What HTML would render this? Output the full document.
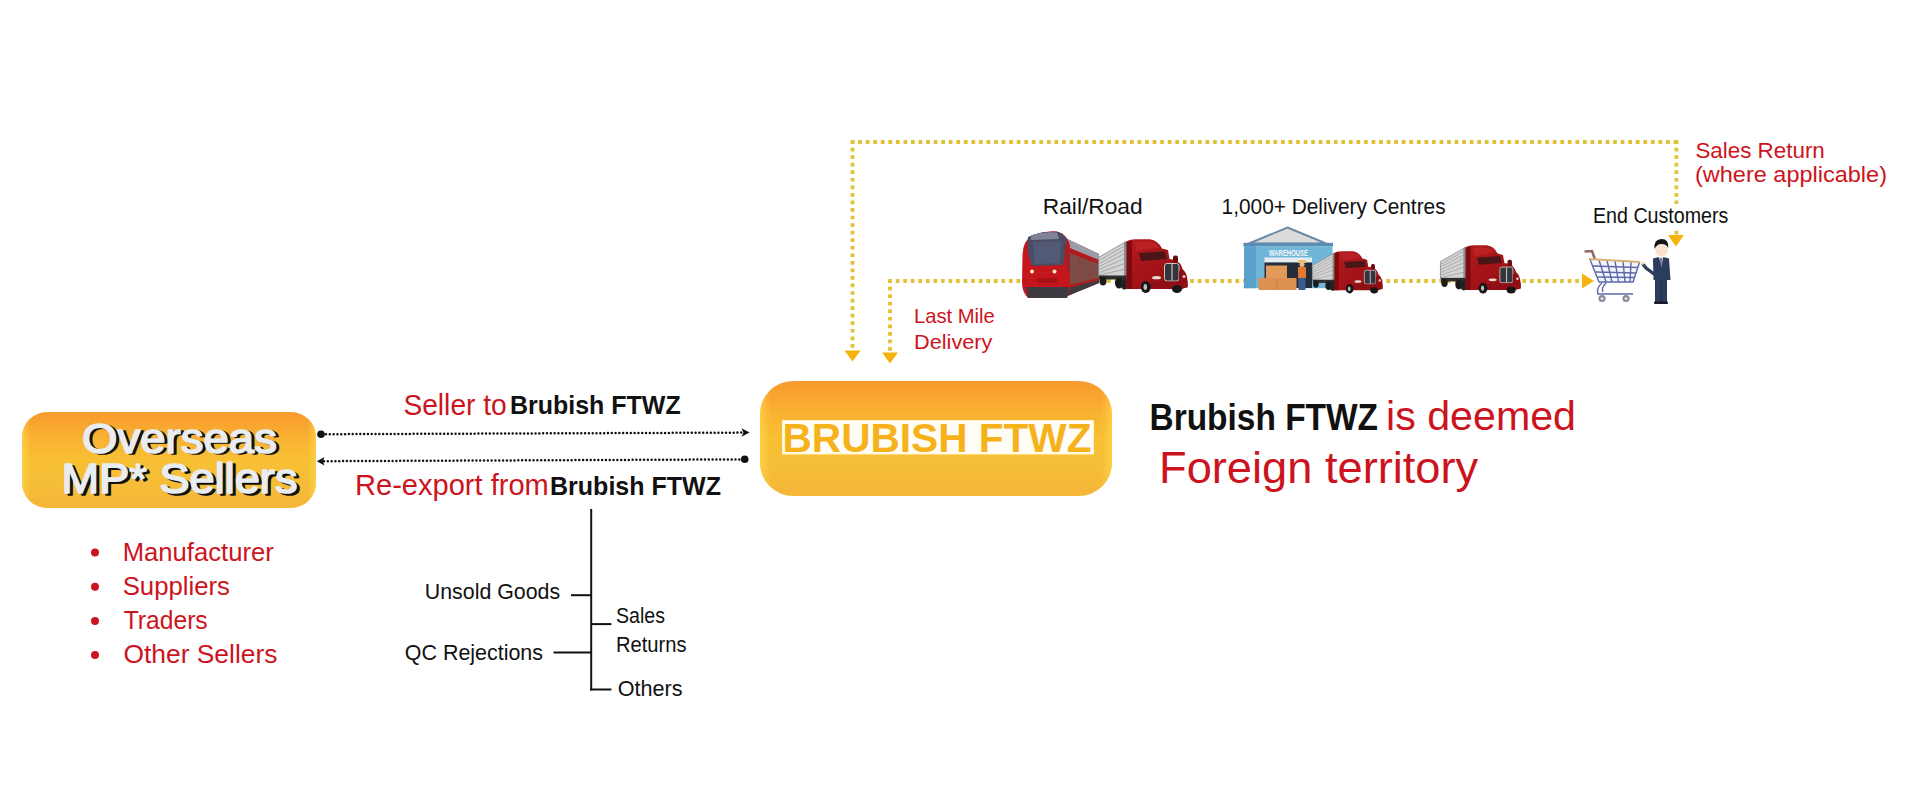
<!DOCTYPE html>
<html><head><meta charset="utf-8">
<style>
html,body{margin:0;padding:0;background:#fff;width:1920px;height:799px;overflow:hidden}
svg{display:block}
text{font-family:"Liberation Sans",sans-serif}
.r{fill:#cc1420}
.k{fill:#111}
.b{font-weight:bold}
</style></head><body>
<svg width="1920" height="799" viewBox="0 0 1920 799">
<defs>
  <linearGradient id="og" x1="0" y1="0" x2="0" y2="1">
    <stop offset="0" stop-color="#f89a2e"/>
    <stop offset="0.28" stop-color="#f9b232"/>
    <stop offset="0.5" stop-color="#f8c034"/>
    <stop offset="0.8" stop-color="#f5bc38"/>
    <stop offset="1" stop-color="#f4b638"/>
  </linearGradient>
  <linearGradient id="cabg" x1="0" y1="0" x2="1" y2="1">
    <stop offset="0" stop-color="#b41a1e"/>
    <stop offset="0.6" stop-color="#a01216"/>
    <stop offset="1" stop-color="#820c10"/>
  </linearGradient>
  <linearGradient id="edge" x1="0" y1="0" x2="1" y2="0">
    <stop offset="0" stop-color="#ffdc50" stop-opacity="0.6"/>
    <stop offset="0.03" stop-color="#ffd84a" stop-opacity="0"/>
    <stop offset="0.97" stop-color="#ffd84a" stop-opacity="0"/>
    <stop offset="1" stop-color="#ffdc50" stop-opacity="0.6"/>
  </linearGradient>
</defs>

<!-- ===== LEFT BOX ===== -->
<rect x="22" y="412" width="294" height="96" rx="25" fill="url(#og)"/>
<rect x="22" y="412" width="294" height="96" rx="25" fill="url(#edge)"/>
<g font-size="42" stroke-linejoin="round">
  <text x="85" y="454" textLength="195" lengthAdjust="spacingAndGlyphs" fill="#111" stroke="#111" stroke-width="1.5">Overseas</text>
  <text x="64.5" y="494.5" textLength="236" lengthAdjust="spacingAndGlyphs" fill="#111" stroke="#111" stroke-width="1.5">MP* Sellers</text>
  <text x="82" y="452.5" textLength="195" lengthAdjust="spacingAndGlyphs" fill="#e8edf2" stroke="#e8edf2" stroke-width="1.5">Overseas</text>
  <text x="61.5" y="493" textLength="236" lengthAdjust="spacingAndGlyphs" fill="#e8edf2" stroke="#e8edf2" stroke-width="1.5">MP* Sellers</text>
</g>

<!-- bullets -->
<g fill="#cc1420">
  <circle cx="95" cy="552.5" r="4"/><circle cx="95" cy="586.7" r="4"/>
  <circle cx="95" cy="620.9" r="4"/><circle cx="95" cy="655" r="4"/>
</g>
<g class="r" font-size="26">
  <text x="122.7" y="561" textLength="151.1" lengthAdjust="spacingAndGlyphs">Manufacturer</text>
  <text x="122.7" y="594.6" textLength="107.3" lengthAdjust="spacingAndGlyphs">Suppliers</text>
  <text x="123.7" y="628.8" textLength="84" lengthAdjust="spacingAndGlyphs">Traders</text>
  <text x="123.5" y="662.6" textLength="153.9" lengthAdjust="spacingAndGlyphs">Other Sellers</text>
</g>

<!-- ===== ARROWS between ===== -->
<g stroke="#111" stroke-width="2.5" stroke-linecap="round" stroke-dasharray="0.01 3.8" fill="none">
  <line x1="326" y1="434.2" x2="743" y2="432.6"/>
  <line x1="324" y1="461.2" x2="740" y2="459.4"/>
</g>
<g fill="#111">
  <circle cx="321" cy="434.3" r="3.8"/>
  <path d="M749.5,432.5 L741.5,428.3 L743.5,432.5 L741.5,436.7 Z"/>
  <path d="M316.8,461.2 L324.5,457 L322.8,461.2 L324.5,465.4 Z"/>
  <circle cx="744.7" cy="459.3" r="3.8"/>
</g>
<text class="r" x="403.4" y="414.5" font-size="29.5" textLength="103.4" lengthAdjust="spacingAndGlyphs">Seller to</text>
<text class="k b" x="510.0" y="414.3" font-size="26.5" textLength="170.7" lengthAdjust="spacingAndGlyphs">Brubish FTWZ</text>
<text class="r" x="355.0" y="494.8" font-size="29.5" textLength="193.8" lengthAdjust="spacingAndGlyphs">Re-export from</text>
<text class="k b" x="550.0" y="494.6" font-size="26.5" textLength="171.0" lengthAdjust="spacingAndGlyphs">Brubish FTWZ</text>

<!-- ===== TREE ===== -->
<g stroke="#111" stroke-width="2" fill="none">
  <line x1="591.2" y1="509" x2="591.2" y2="690.5"/>
  <line x1="571" y1="595.2" x2="591.2" y2="595.2"/>
  <line x1="591.2" y1="624.1" x2="611.4" y2="624.1"/>
  <line x1="553.5" y1="652.5" x2="591.2" y2="652.5"/>
  <line x1="590.2" y1="689.5" x2="611.4" y2="689.5"/>
</g>
<g class="k" font-size="21.5">
  <text x="424.8" y="598.6" textLength="135.3" lengthAdjust="spacingAndGlyphs">Unsold Goods</text>
  <text x="404.8" y="659.9" textLength="138.2" lengthAdjust="spacingAndGlyphs">QC Rejections</text>
  <text x="616" y="623" textLength="49" lengthAdjust="spacingAndGlyphs">Sales</text>
  <text x="616.0" y="652" textLength="70.6" lengthAdjust="spacingAndGlyphs">Returns</text>
  <text x="617.8" y="695.9" textLength="64.8" lengthAdjust="spacingAndGlyphs">Others</text>
</g>

<!-- ===== CENTRE BOX ===== -->
<rect x="760" y="381" width="352" height="115" rx="33" fill="url(#og)"/>
<rect x="760" y="381" width="352" height="115" rx="33" fill="url(#edge)"/>
<rect x="782.5" y="420.5" width="311" height="33.5" fill="#fffdf6" stroke="#fff3c0" stroke-width="1"/>
<text class="b" x="782.5" y="451.5" font-size="41" fill="#f5b21a" textLength="309" lengthAdjust="spacingAndGlyphs">BRUBISH FTWZ</text>

<!-- ===== RIGHT STATEMENT ===== -->
<text class="k b" x="1149.5" y="430" font-size="36" textLength="228.5" lengthAdjust="spacingAndGlyphs">Brubish FTWZ</text>
<text class="r" x="1386.0" y="430.2" font-size="40" textLength="190.0" lengthAdjust="spacingAndGlyphs">is deemed</text>
<text class="r" x="1159.0" y="482.6" font-size="44.5" textLength="319.2" lengthAdjust="spacingAndGlyphs">Foreign territory</text>

<!-- ===== YELLOW DOTTED PATHS ===== -->
<g stroke="#e4c038" stroke-width="3.8" stroke-dasharray="3.7 3.85" stroke-dashoffset="1.85" fill="none">
  <path d="M852.5,142 L1676.4,142"/>
  <path d="M852.5,142 L852.5,350"/>
  <path d="M1676.4,142 L1676.4,236"/>
  <path d="M890,281 L890,352"/>
  <path d="M890,281 L1581,281"/>
</g>
<g fill="#e4c038">
  <rect x="850.6" y="140.1" width="3.8" height="3.8"/>
  <rect x="1674.5" y="140.1" width="3.8" height="3.8"/>
  <rect x="888.1" y="279.1" width="3.8" height="3.8"/>
</g>
<g fill="#f6b30c">
  <path d="M852.5,361.6 L844.5,350.5 L860.5,350.5 Z"/>
  <path d="M890,363.5 L882,352.5 L898,352.5 Z"/>
  <path d="M1675.8,246.4 L1668,235 L1684,235 Z"/>
  <path d="M1594,281 L1582,273.5 L1582,288.5 Z"/>
</g>

<!-- top labels -->
<text class="k" x="1042.8" y="213.6" font-size="21.5" textLength="99.8" lengthAdjust="spacingAndGlyphs">Rail/Road</text>
<text class="k" x="1221.6" y="213.6" font-size="21.5" textLength="224.0" lengthAdjust="spacingAndGlyphs">1,000+ Delivery Centres</text>
<rect x="1590" y="204" width="142" height="24" fill="#fff"/>
<text class="k" x="1593.0" y="222.6" font-size="21.5" textLength="135.4" lengthAdjust="spacingAndGlyphs">End Customers</text>
<text class="r" x="1695.4" y="157.5" font-size="22.5" textLength="129.4" lengthAdjust="spacingAndGlyphs">Sales Return</text>
<text class="r" x="1695.0" y="182" font-size="22.5" textLength="192.0" lengthAdjust="spacingAndGlyphs">(where applicable)</text>
<text class="r" x="914.0" y="323.4" font-size="21" textLength="80.8" lengthAdjust="spacingAndGlyphs">Last Mile</text>
<text class="r" x="914.0" y="349.1" font-size="21" textLength="78.4" lengthAdjust="spacingAndGlyphs">Delivery</text>

<!-- IMAGES placeholder -->
<g id="imgs">


<!-- ===== TRAIN ===== -->
<g transform="translate(1021,231)">
  <!-- side body -->
  <path d="M42,6 L78,23 L78,52 L44,66 Z" fill="#b01a1e"/>
  <path d="M42,6 L78,23 L78,29 L44,15 Z" fill="#9a9ca6"/>
  <path d="M48,22 L78,33 L78,47 L48,54 Z" fill="#6e5a52" opacity="0.8"/>
  <path d="M58,26 L60,27 L60,51 L58,51.5 Z M68,30 L70,31 L70,49 L68,49.5 Z" fill="#a03a36" opacity="0.6"/>
  <path d="M44,58 L78,49 L78,52 L44,66 Z" fill="#3e3c40"/>
  <!-- front -->
  <path d="M1.5,24 Q2,9 12,4 Q24,-0.5 36,0.5 Q46,3 49,14 L49,57 L46,67 L7,67 Q1,61 1,52 Z" fill="#c4161c"/>
  <path d="M7,6 Q20,-0.2 36,0.8 Q44,3 46,9 L42,34 L11,35 Q5,22 7,6 Z" fill="#4a4e64"/>
  <path d="M10,4.5 Q22,0.5 36,1.5 L38,8 L10,9 Z" fill="#80849a"/>
  <path d="M12,11 L40,10.5 L38.5,32 L14,33 Z" fill="#5a6282" opacity="0.6"/>
  <path d="M44,12 Q50,20 49,40 L46,44 L42,16 Z" fill="#7a2a34" opacity="0.5"/>
  <path d="M5,56 L48,56 L46,67 L7,67 Z" fill="#3e3c42"/>
  <rect x="16" y="47" width="20" height="5" fill="#a41016" opacity="0.8"/>
  <circle cx="11" cy="40.5" r="2" fill="#fff2c0"/>
  <circle cx="33.5" cy="40.5" r="2" fill="#fff2c0"/>
</g>

<!-- ===== TRUCK 1 ===== -->
<g transform="translate(1098,239)">
    <!-- trailer -->
    <polygon points="0.5,18.5 28.6,2.3 28.6,38 0.5,37" fill="#d4d4d4" stroke="#7a7a7a" stroke-width="0.8"/>
    <g stroke="#a2a2a2" stroke-width="0.9">
      <line x1="1" y1="21.5" x2="28" y2="6"/><line x1="1" y1="24.5" x2="28" y2="10"/>
      <line x1="1" y1="27.5" x2="28" y2="14"/><line x1="1" y1="30.5" x2="28" y2="19"/>
      <line x1="1" y1="33.5" x2="28" y2="24"/><line x1="1" y1="36" x2="28" y2="30"/>
    </g>
    <polygon points="26,3.5 29,2 29,38 26,38" fill="#8c8c8c"/>
    <!-- undercarriage -->
    <rect x="1" y="36.5" width="28" height="4" fill="#2e2e2e"/>
    <ellipse cx="5" cy="42" rx="3.6" ry="4.6" fill="#1a1a1a"/>
    <ellipse cx="21" cy="44" rx="4" ry="5.5" fill="#1a1a1a"/>
    <ellipse cx="26.5" cy="45" rx="4" ry="5.5" fill="#222"/>
    <!-- cab -->
    <path d="M28.6,3 Q30,0.4 38,0.3 L52,0.3 Q60,1.5 64,9.5 L70,11 L71.5,20 L77,21 Q83,23.5 84.5,30 Q89.3,34 89.5,42 L89.5,48 L84,50 L28.6,50 Z" fill="url(#cabg)"/>
    <path d="M28.6,3 L34,1.2 L34,50 L28.6,50 Z" fill="#7e0a0e"/>
    <path d="M37,3 Q50,1.5 58,4.5 L61,9 L38,12 Z" fill="#c42a2c" opacity="0.55"/>
    <!-- windshield -->
    <polygon points="41,14 67,12.5 68.5,20 43,22" fill="#4a1618"/>
    <!-- mirror -->
    <rect x="75" y="16.5" width="5" height="7" rx="2" fill="#6a0a0e"/>
    <!-- grille -->
    <rect x="66.5" y="24.5" width="14.5" height="17.5" rx="2.5" fill="#34343c" stroke="#c4c4c4" stroke-width="1"/>
    <line x1="74" y1="25" x2="74" y2="41.5" stroke="#d0d0d0" stroke-width="1.1"/>
    <!-- fender / bumper -->
    <path d="M81,32 Q88,34 89.3,42 L89.3,48 L81,48 Z" fill="#8a0e12"/>
    <rect x="53" y="42.5" width="36.5" height="6" fill="#8e1014"/>
    <!-- headlight -->
    <ellipse cx="58.5" cy="38.7" rx="4.5" ry="1.6" fill="#eadcd4"/>
    <ellipse cx="86" cy="37.5" rx="1.5" ry="1.5" fill="#e8c8c8"/>
    <!-- wheels -->
    <ellipse cx="47.8" cy="48" rx="5" ry="6" fill="#161616"/>
    <ellipse cx="47.3" cy="48" rx="1.8" ry="3" fill="#bcbcbc"/>
    <ellipse cx="79" cy="50" rx="5" ry="4" fill="#161616"/>
  </g>

<!-- ===== WAREHOUSE ===== -->
<g transform="translate(1243,227)">
  <polygon points="44.5,0.5 83,16.5 6,16.5" fill="#dcdcdc" stroke="#6c8aa6" stroke-width="2"/>
  <rect x="0.5" y="15.8" width="89.5" height="3.6" fill="#5b8cb4"/>
  <rect x="1" y="19.2" width="88.5" height="42" fill="#70b6d8"/>
  <rect x="1" y="19.2" width="12" height="42" fill="#5ba2ca"/>
  <text x="26" y="28.5" font-size="9.5" font-weight="bold" fill="#f4f8fa" textLength="39" lengthAdjust="spacingAndGlyphs">WAREHOUSE</text>
  <rect x="21.5" y="30.5" width="47.5" height="5" fill="#e6ecf0"/>
  <rect x="21.5" y="35.5" width="47.5" height="25.5" fill="#252c3a"/>
  <rect x="23" y="38.5" width="21" height="12.5" fill="#e39a58"/>
  <rect x="15.5" y="51" width="38" height="12" fill="#dc9052"/>
  <line x1="34" y1="51" x2="34" y2="63" stroke="#c47a40" stroke-width="0.8"/>
  <!-- worker -->
  <rect x="55" y="33" width="8" height="3" fill="#e8c070"/>
  <circle cx="59" cy="37.5" r="2.5" fill="#e8b890"/>
  <rect x="55" y="40" width="8" height="11" fill="#e07a30"/>
  <rect x="55.5" y="51" width="7" height="12" fill="#3a5a90"/>
</g>

<!-- ===== TRUCK 2 ===== -->
<g transform="translate(1312,251) scale(0.787)">
    <!-- trailer -->
    <polygon points="0.5,18.5 28.6,2.3 28.6,38 0.5,37" fill="#d4d4d4" stroke="#7a7a7a" stroke-width="0.8"/>
    <g stroke="#a2a2a2" stroke-width="0.9">
      <line x1="1" y1="21.5" x2="28" y2="6"/><line x1="1" y1="24.5" x2="28" y2="10"/>
      <line x1="1" y1="27.5" x2="28" y2="14"/><line x1="1" y1="30.5" x2="28" y2="19"/>
      <line x1="1" y1="33.5" x2="28" y2="24"/><line x1="1" y1="36" x2="28" y2="30"/>
    </g>
    <polygon points="26,3.5 29,2 29,38 26,38" fill="#8c8c8c"/>
    <!-- undercarriage -->
    <rect x="1" y="36.5" width="28" height="4" fill="#2e2e2e"/>
    <ellipse cx="5" cy="42" rx="3.6" ry="4.6" fill="#1a1a1a"/>
    <ellipse cx="21" cy="44" rx="4" ry="5.5" fill="#1a1a1a"/>
    <ellipse cx="26.5" cy="45" rx="4" ry="5.5" fill="#222"/>
    <!-- cab -->
    <path d="M28.6,3 Q30,0.4 38,0.3 L52,0.3 Q60,1.5 64,9.5 L70,11 L71.5,20 L77,21 Q83,23.5 84.5,30 Q89.3,34 89.5,42 L89.5,48 L84,50 L28.6,50 Z" fill="url(#cabg)"/>
    <path d="M28.6,3 L34,1.2 L34,50 L28.6,50 Z" fill="#7e0a0e"/>
    <path d="M37,3 Q50,1.5 58,4.5 L61,9 L38,12 Z" fill="#c42a2c" opacity="0.55"/>
    <!-- windshield -->
    <polygon points="41,14 67,12.5 68.5,20 43,22" fill="#4a1618"/>
    <!-- mirror -->
    <rect x="75" y="16.5" width="5" height="7" rx="2" fill="#6a0a0e"/>
    <!-- grille -->
    <rect x="66.5" y="24.5" width="14.5" height="17.5" rx="2.5" fill="#34343c" stroke="#c4c4c4" stroke-width="1"/>
    <line x1="74" y1="25" x2="74" y2="41.5" stroke="#d0d0d0" stroke-width="1.1"/>
    <!-- fender / bumper -->
    <path d="M81,32 Q88,34 89.3,42 L89.3,48 L81,48 Z" fill="#8a0e12"/>
    <rect x="53" y="42.5" width="36.5" height="6" fill="#8e1014"/>
    <!-- headlight -->
    <ellipse cx="58.5" cy="38.7" rx="4.5" ry="1.6" fill="#eadcd4"/>
    <ellipse cx="86" cy="37.5" rx="1.5" ry="1.5" fill="#e8c8c8"/>
    <!-- wheels -->
    <ellipse cx="47.8" cy="48" rx="5" ry="6" fill="#161616"/>
    <ellipse cx="47.3" cy="48" rx="1.8" ry="3" fill="#bcbcbc"/>
    <ellipse cx="79" cy="50" rx="5" ry="4" fill="#161616"/>
  </g>
<!-- ===== TRUCK 3 ===== -->
<g transform="translate(1440,245) scale(0.9)">
    <!-- trailer -->
    <polygon points="0.5,18.5 28.6,2.3 28.6,38 0.5,37" fill="#d4d4d4" stroke="#7a7a7a" stroke-width="0.8"/>
    <g stroke="#a2a2a2" stroke-width="0.9">
      <line x1="1" y1="21.5" x2="28" y2="6"/><line x1="1" y1="24.5" x2="28" y2="10"/>
      <line x1="1" y1="27.5" x2="28" y2="14"/><line x1="1" y1="30.5" x2="28" y2="19"/>
      <line x1="1" y1="33.5" x2="28" y2="24"/><line x1="1" y1="36" x2="28" y2="30"/>
    </g>
    <polygon points="26,3.5 29,2 29,38 26,38" fill="#8c8c8c"/>
    <!-- undercarriage -->
    <rect x="1" y="36.5" width="28" height="4" fill="#2e2e2e"/>
    <ellipse cx="5" cy="42" rx="3.6" ry="4.6" fill="#1a1a1a"/>
    <ellipse cx="21" cy="44" rx="4" ry="5.5" fill="#1a1a1a"/>
    <ellipse cx="26.5" cy="45" rx="4" ry="5.5" fill="#222"/>
    <!-- cab -->
    <path d="M28.6,3 Q30,0.4 38,0.3 L52,0.3 Q60,1.5 64,9.5 L70,11 L71.5,20 L77,21 Q83,23.5 84.5,30 Q89.3,34 89.5,42 L89.5,48 L84,50 L28.6,50 Z" fill="url(#cabg)"/>
    <path d="M28.6,3 L34,1.2 L34,50 L28.6,50 Z" fill="#7e0a0e"/>
    <path d="M37,3 Q50,1.5 58,4.5 L61,9 L38,12 Z" fill="#c42a2c" opacity="0.55"/>
    <!-- windshield -->
    <polygon points="41,14 67,12.5 68.5,20 43,22" fill="#4a1618"/>
    <!-- mirror -->
    <rect x="75" y="16.5" width="5" height="7" rx="2" fill="#6a0a0e"/>
    <!-- grille -->
    <rect x="66.5" y="24.5" width="14.5" height="17.5" rx="2.5" fill="#34343c" stroke="#c4c4c4" stroke-width="1"/>
    <line x1="74" y1="25" x2="74" y2="41.5" stroke="#d0d0d0" stroke-width="1.1"/>
    <!-- fender / bumper -->
    <path d="M81,32 Q88,34 89.3,42 L89.3,48 L81,48 Z" fill="#8a0e12"/>
    <rect x="53" y="42.5" width="36.5" height="6" fill="#8e1014"/>
    <!-- headlight -->
    <ellipse cx="58.5" cy="38.7" rx="4.5" ry="1.6" fill="#eadcd4"/>
    <ellipse cx="86" cy="37.5" rx="1.5" ry="1.5" fill="#e8c8c8"/>
    <!-- wheels -->
    <ellipse cx="47.8" cy="48" rx="5" ry="6" fill="#161616"/>
    <ellipse cx="47.3" cy="48" rx="1.8" ry="3" fill="#bcbcbc"/>
    <ellipse cx="79" cy="50" rx="5" ry="4" fill="#161616"/>
  </g>

<!-- ===== CART + PERSON ===== -->
<g transform="translate(1575,230)">
  <!-- cart -->
  <path d="M10.5,21.5 L17,21 L19.5,28" stroke="#8a6e62" stroke-width="2.5" fill="none" stroke-linecap="round"/>
  <path d="M15,29.5 L24,52 L58,52 L64.5,32.5 Z" fill="#f4f6fb"/>
  <g stroke="#5c68a8" stroke-width="1.4" fill="none">
    <path d="M15,29.5 L24,52 L58,52 L64.5,32.5"/>
    <line x1="18" y1="36" x2="63" y2="37.5"/>
    <line x1="20.5" y1="42" x2="61" y2="43"/>
    <line x1="22.5" y1="47" x2="59.5" y2="47.5"/>
    <line x1="24" y1="30" x2="31" y2="52"/>
    <line x1="32" y1="30.5" x2="37" y2="52"/>
    <line x1="40" y1="31" x2="43.5" y2="52"/>
    <line x1="48" y1="31.5" x2="50" y2="52"/>
    <line x1="56" y1="32" x2="55" y2="52"/>
    <path d="M27,53 Q21,58 23,64 L58,64"/>
    <path d="M31,53 Q26,58 28,62"/>
  </g>
  <line x1="14" y1="29" x2="65" y2="32" stroke="#d8b272" stroke-width="2.2"/>
  <circle cx="27" cy="68.5" r="3.6" fill="#8a8a9a"/><circle cx="27" cy="68.5" r="1.5" fill="#e0e0e0"/>
  <circle cx="51" cy="68.5" r="3.6" fill="#8a8a9a"/><circle cx="51" cy="68.5" r="1.5" fill="#e0e0e0"/>
  <!-- person -->
  <path d="M79,44 L71,38 L67.5,33.5" stroke="#2c3c5c" stroke-width="3.2" fill="none" stroke-linecap="round"/>
  <circle cx="67.5" cy="33" r="1.8" fill="#fbe2cc"/>
  <path d="M78,28.5 Q86,25.5 94,28.5 L95.5,50 L78.5,50 Z" fill="#2c3c5c"/>
  <path d="M84,27 L88,27 L86.5,38 Z" fill="#e8eef8"/>
  <line x1="86" y1="28" x2="86" y2="37" stroke="#2a3a6c" stroke-width="1.2"/>
  <rect x="80" y="49" width="12" height="23" fill="#2c3c5c"/>
  <line x1="86" y1="52" x2="86" y2="72" stroke="#1c2a44" stroke-width="0.8"/>
  <rect x="79" y="71.5" width="14" height="2.5" rx="1" fill="#1a1a24"/>
  <ellipse cx="86.5" cy="19.5" rx="6.5" ry="7" fill="#fbe2cc"/>
  <path d="M79.5,19 Q78.5,9 86.5,9 Q94,9 93.3,18 Q91,13.5 86,14 Q82,14 79.5,19 Z" fill="#151515"/>
</g>

</g>

</svg>
</body></html>
